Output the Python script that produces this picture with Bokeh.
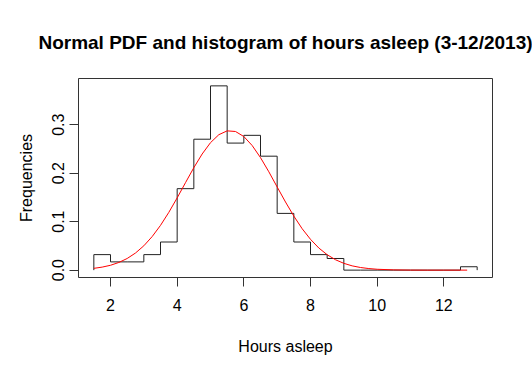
from bokeh.plotting import figure
from bokeh.models import Range1d, FixedTicker
from bokeh.embed import file_html
from bokeh.resources import INLINE

# Histogram (density): bin edges and densities
bin_edges = [1.5, 2.0, 2.5, 3.0, 3.5, 4.0, 4.5, 5.0, 5.5, 6.0, 6.5, 7.0, 7.5, 8.0,
             8.5, 9.0, 9.5, 10.0, 10.5, 11.0, 11.5, 12.0, 12.5, 13.0]
densities = [0.032, 0.017, 0.017, 0.032, 0.058, 0.168, 0.270, 0.380, 0.262, 0.278,
             0.235, 0.117, 0.058, 0.032, 0.024, 0.0, 0.0, 0.0, 0.0, 0.0, 0.0, 0.0, 0.007]

# Normal PDF curve
curve_x = [1.5, 1.75, 2.0, 2.25, 2.5, 2.75, 3.0, 3.25, 3.5, 3.75, 4.0, 4.25, 4.5, 4.75,
           5.0, 5.25, 5.5, 5.75, 6.0, 6.25, 6.5, 6.75, 7.0, 7.25, 7.5, 7.75, 8.0, 8.25,
           8.5, 8.75, 9.0, 9.25, 9.5, 9.75, 10.0, 10.5, 11.0, 11.5, 12.0, 12.5, 12.7]
curve_y = [0.0037, 0.0062, 0.0100, 0.0158, 0.0240, 0.0353, 0.0502, 0.0692, 0.0923, 0.1192,
           0.1490, 0.1804, 0.2113, 0.2395, 0.2629, 0.2793, 0.2872, 0.2859, 0.2755, 0.2570,
           0.2320, 0.2028, 0.1715, 0.1405, 0.1114, 0.0854, 0.0635, 0.0456, 0.0318, 0.0214,
           0.0140, 0.0088, 0.0054, 0.0032, 0.0018, 0.0005, 0.0001, 0.0, 0.0, 0.0, 0.0]

x_ticks = [2, 4, 6, 8, 10, 12]
y_ticks = [0.0, 0.1, 0.2, 0.3]
y_tick_labels = ["0.0", "0.1", "0.2", "0.3"]

FONT = "Liberation Sans"

p = figure(width=532, height=375, output_backend="svg", toolbar_location=None,
           x_range=Range1d(1.04, 13.46), y_range=Range1d(-0.0152, 0.3952),
           min_border_left=78, min_border_right=40, min_border_top=78, min_border_bottom=98,
           background_fill_color="white", border_fill_color="white")

p.title.text = "Normal PDF and histogram of hours asleep (3-12/2013)"
p.title.align = "center"
p.title.text_font = FONT
p.title.text_font_size = "19px"
p.title.text_font_style = "bold"
p.title.text_color = "black"
p.title.standoff = 52
p.title.offset = -3

p.grid.visible = False
p.outline_line_color = "#333333"
p.outline_line_width = 1
p.outline_line_alpha = 1.0

# step outline of histogram
sx = [bin_edges[0]]
sy = [0.0]
for i, d in enumerate(densities):
    sx += [bin_edges[i], bin_edges[i + 1]]
    sy += [d, d]
sx.append(bin_edges[-1])
sy.append(0.0)
p.line(sx, sy, line_color="#222222", line_width=1)

p.line(curve_x, curve_y, line_color="red", line_width=1)

for ax in (p.xaxis[0], p.yaxis[0]):
    ax.axis_line_color = None
    ax.major_tick_in = 0
    ax.major_tick_out = 9
    ax.minor_tick_in = 0
    ax.minor_tick_out = 0
    ax.major_tick_line_color = "#333333"
    ax.major_label_text_font = FONT
    ax.major_label_text_font_size = "16px"
    ax.major_label_text_color = "black"
    ax.axis_label_text_font = FONT
    ax.axis_label_text_font_size = "16px"
    ax.axis_label_text_font_style = "normal"
    ax.axis_label_text_color = "black"

p.xaxis.ticker = FixedTicker(ticks=x_ticks)
p.yaxis.ticker = FixedTicker(ticks=y_ticks)
p.yaxis.major_label_overrides = {t: s for t, s in zip(y_ticks, y_tick_labels)}
p.yaxis.major_label_orientation = "vertical"
p.xaxis.axis_label = "Hours asleep"
p.yaxis.axis_label = "Frequencies"
p.xaxis.major_label_standoff = 12
p.xaxis.axis_label_standoff = 24
p.yaxis.major_label_standoff = 5
p.yaxis.axis_label_standoff = 15

open("out.html", "w").write(file_html(p, INLINE))
